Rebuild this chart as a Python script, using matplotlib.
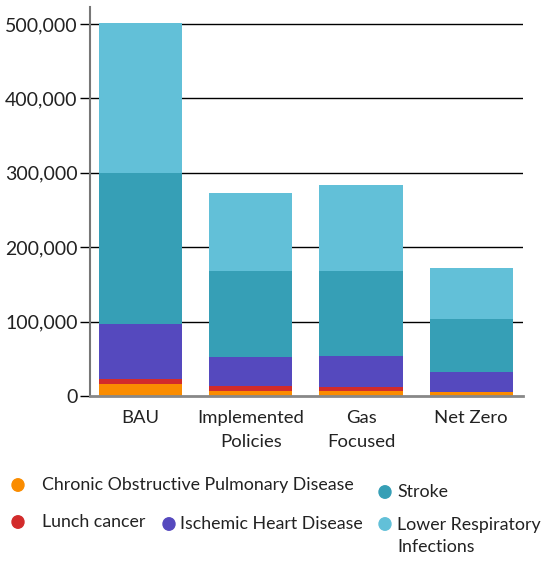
import matplotlib
matplotlib.use("Agg")
import matplotlib.pyplot as plt
from matplotlib.ticker import FuncFormatter

plt.rcParams["font.family"] = ["Lato", "DejaVu Sans"]

# ── Data ──────────────────────────────────────────────────────────────────
scenarios = ["BAU", "Implemented\nPolicies", "Gas\nFocused", "Net Zero"]
copd = [16000, 6700, 6700, 5400]
lung_cancer = [7000, 6700, 5000, 500]
ischemic = [74000, 39000, 42000, 27000]
stroke = [203000, 115600, 114000, 71000]
lower_resp = [201000, 105000, 115600, 68500]

series = [
    ("Chronic Obstructive Pulmonary Disease", copd, "#FA8C00"),
    ("Lunch cancer", lung_cancer, "#D22B2B"),
    ("Ischemic Heart Disease", ischemic, "#5549BE"),
    ("Stroke", stroke, "#369FB6"),
    ("Lower Respiratory\nInfections", lower_resp, "#62C0D8"),
]

W, H = 542, 563
fig = plt.figure(figsize=(W / 100, H / 100), dpi=100)
ax = fig.add_axes([90 / W, (H - 396) / H, (523 - 90) / W, (396 - 7) / H])

x = range(len(scenarios))
bottom = [0] * len(scenarios)
for name, vals, color in series:
    ax.bar(x, vals, bottom=bottom, width=0.755, color=color, zorder=2)
    bottom = [b + v for b, v in zip(bottom, vals)]

ax.set_xlim(-0.46, 3.47)
ax.set_ylim(0, 523000)
ax.set_yticks([0, 100000, 200000, 300000, 400000, 500000])
ax.yaxis.set_major_formatter(FuncFormatter(lambda v, p: f"{int(v):,}"))
ax.set_xticks(list(x))
ax.set_xticklabels(scenarios, fontsize=13.3, color="#222222", linespacing=1.6)
ax.tick_params(axis="x", length=0, pad=10)
ax.tick_params(axis="y", length=7.5, width=1, color="black", labelsize=14,
               labelcolor="#222222", pad=1.5)

for yv in [100000, 200000, 300000, 400000, 500000]:
    ax.axhline(yv, color="black", lw=1, zorder=1)

for side in ["top", "right"]:
    ax.spines[side].set_visible(False)
ax.spines["left"].set_color("#777777")
ax.spines["left"].set_linewidth(1.5)
ax.spines["bottom"].set_color("#888888")
ax.spines["bottom"].set_linewidth(2)

# ── Legend (manual layout) ────────────────────────────────────────────────
legend_items = [
    (18, 485, 42, 485, series[0]),
    (18, 522, 42, 522, series[1]),
    (169, 524, 180, 524, series[2]),
    (385, 492, 397, 492, series[3]),
    (385, 524, 397, 536, series[4]),
]
for mx, my, tx, ty, (name, _, color) in legend_items:
    fig.patches.append(plt.Circle((mx / W, 1 - my / H), 6 / W,
                                  transform=fig.transFigure, color=color,
                                  figure=fig))
    fig.text(tx / W, 1 - ty / H, name, fontsize=12.8, color="#222222",
             ha="left", va="center", linespacing=1.5)

fig.savefig("out.png", dpi=100, facecolor="white")
